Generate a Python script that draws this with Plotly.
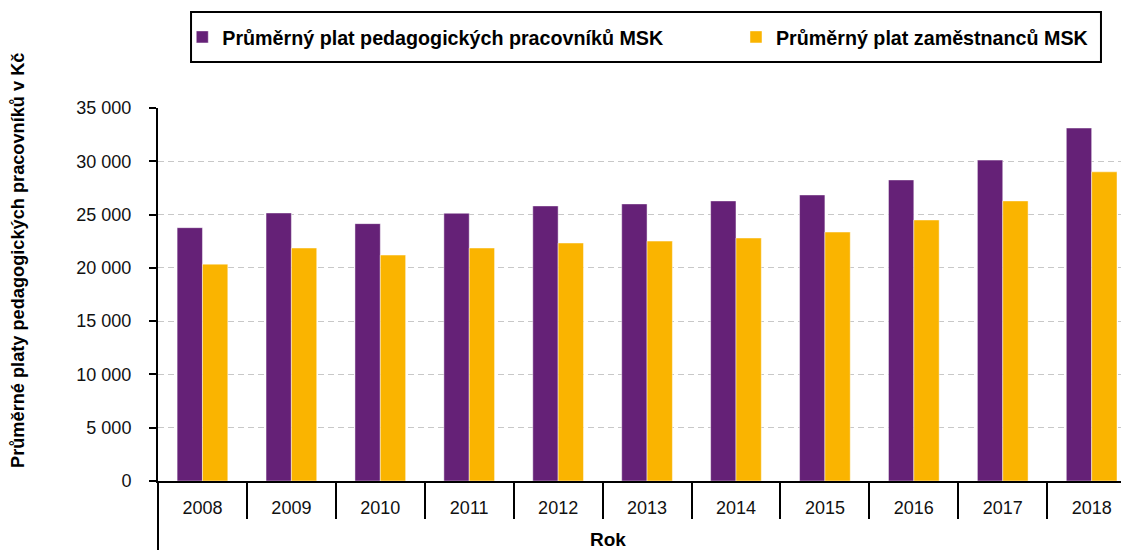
import plotly.graph_objects as go

# data
years = ["2008", "2009", "2010", "2011", "2012", "2013", "2014", "2015", "2016", "2017", "2018"]
plat_pedagogove = [23770, 25150, 24150, 25120, 25810, 26000, 26280, 26840, 28250, 30110, 33120]
plat_zamestnanci = [20350, 21860, 21200, 21860, 22330, 22510, 22800, 23360, 24490, 26280, 29010]
y_ticks = [0, 5000, 10000, 15000, 20000, 25000, 30000, 35000]
y_labels = ["0", "5 000", "10 000", "15 000", "20 000", "25 000", "30 000", "35 000"]

series_names = [
    "Průměrný plat pedagogických pracovníků MSK",
    "Průměrný plat zaměstnanců MSK",
]
colors = ["#652177", "#fab400"]

FONT = "Liberation Sans, Arial, sans-serif"

fig = go.Figure(layout=dict(width=1121, height=550))

# each series gets its own legend box so both entries sit where the reference has them
for name, vals, color, leg in zip(series_names, [plat_pedagogove, plat_zamestnanci], colors,
                                  ["legend", "legend2"]):
    fig.add_trace(
        go.Bar(
            x=years,
            y=vals,
            name=name,
            legend=leg,
            marker=dict(color=color, line=dict(color="rgba(255,255,255,0.45)", width=1)),
        )
    )

legend_style = dict(
    orientation="h",
    yanchor="middle",
    y=1.19,
    xanchor="left",
    font=dict(family=FONT, size=19.7, color="#000000", weight="bold"),
    bgcolor="rgba(0,0,0,0)",
    borderwidth=0,
)

fig.update_layout(
    barmode="group",
    bargap=0.43,
    bargroupgap=0,
    plot_bgcolor="white",
    paper_bgcolor="white",
    margin=dict(l=158, r=0, t=108, b=69, autoexpand=False),
    font=dict(family=FONT, size=18, color="#111111"),
    showlegend=True,
    legend=dict(legend_style, x=0.0252),
    legend2=dict(legend_style, x=0.6002),
)

fig.update_xaxes(
    type="category",
    range=[-0.5, 10.33],
    showline=True,
    linecolor="black",
    linewidth=2,
    ticks="outside",
    tickson="boundaries",
    ticklen=36,
    tickwidth=2,
    tickcolor="black",
    ticklabelstandoff=9,
    tickfont=dict(size=18, color="#111111"),
    showgrid=False,
)

fig.update_yaxes(
    range=[0, 35000],
    tickmode="array",
    tickvals=y_ticks,
    ticktext=y_labels,
    showline=True,
    linecolor="black",
    linewidth=2,
    ticks="outside",
    ticklen=7,
    tickwidth=1.5,
    tickcolor="black",
    ticklabelstandoff=14,
    tickfont=dict(size=18, color="#111111"),
    showgrid=True,
    gridcolor="#c8c8c8",
    gridwidth=1,
    griddash="6px,4px",
    zeroline=False,
)

# legend frame and the y-axis line running on below the category labels
fig.add_shape(type="rect", xref="paper", yref="paper",
              x0=0.0343, x1=0.9792, y0=1.1233, y1=1.2574,
              line=dict(color="black", width=2), fillcolor="rgba(0,0,0,0)")
fig.add_shape(type="line", xref="paper", yref="paper",
              x0=0, x1=0, y0=0, y1=-0.19,
              line=dict(color="black", width=2))

fig.add_annotation(
    text="<b>Průměrné platy pedagogických pracovníků v Kč</b>",
    xref="paper", yref="paper", x=-0.1454, y=0.5925,
    xanchor="center", yanchor="middle", textangle=-90, showarrow=False,
    font=dict(family=FONT, size=18.2, color="#000000"),
)
fig.add_annotation(
    text="<b>Rok</b>",
    xref="paper", yref="paper", x=0.4673, y=-0.158,
    xanchor="center", yanchor="middle", showarrow=False,
    font=dict(family=FONT, size=19, color="#000000"),
)

# drop the browser's default body margin so the figure starts at the page corner
fig.write_html("out.html", config={"displayModeBar": False},
               post_script="document.body.style.margin='0';")
